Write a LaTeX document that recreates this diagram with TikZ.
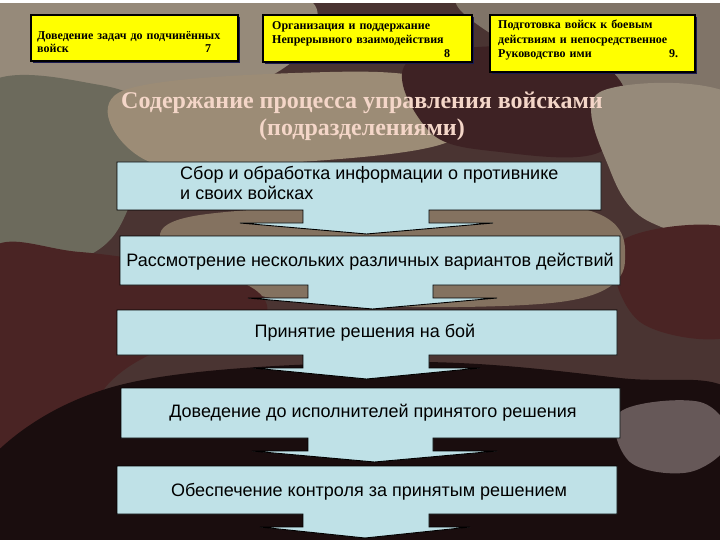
\documentclass[tikz,border=0pt]{standalone}
\usepackage{fontspec}
\setmainfont{Liberation Serif}
\newfontfamily\arialf{Liberation Sans}
\definecolor{camotan}{HTML}{968A7A}
\definecolor{camogrey}{HTML}{807468}
\definecolor{camogreen}{HTML}{6C6A5C}
\definecolor{camosand}{HTML}{9C8C76}
\definecolor{camomaroon}{HTML}{3E2224}
\definecolor{camored}{HTML}{4A2424}
\definecolor{camodark}{HTML}{1A0D0E}
\definecolor{camomid}{HTML}{847260}
\definecolor{camolight}{HTML}{665858}
\definecolor{camobase}{HTML}{4A3432}
\definecolor{flowblue}{HTML}{BFE1E7}
\definecolor{noteyellow}{HTML}{FFFF00}
\definecolor{noteshadow}{HTML}{1A1A50}
\definecolor{titlepink}{HTML}{F4D6C8}
\newcommand\flowcallout[8]{%
  \filldraw[flowshape] (#1,#2) -- (#3,#2) -- (#3,#4) -- (#6,#4) -- (#6,{#4+13})
    -- (#8,{#4+13}) -- ({(#7+#8)/2},{#4+24}) -- (#7,{#4+13}) -- (#5,{#4+13})
    -- (#5,#4) -- (#1,#4) -- cycle;}
\begin{document}
\begin{tikzpicture}[x=1pt,y=-1pt,
  flowshape/.style={fill=flowblue,draw=black,line width=0.9pt,line join=miter},
  notebox/.style={fill=noteyellow,draw=black,line width=2pt},
  notetext/.style={font=\bfseries\fontsize{12}{14}\selectfont,text=black,align=left,anchor=north west,inner sep=0pt},
  flowtext/.style={font=\arialf\fontsize{18}{20}\selectfont,text=black,inner sep=0pt},
  blob/.style={smooth cycle,tension=0.6}]
\useasboundingbox (0,0) rectangle (720,540);
% camouflage background
\fill[camobase] (0,0) rectangle (720,540);
\fill[camotan] plot[blob] coordinates {(-20,-10) (280,-10) (310,40) (250,85) (150,95) (60,82) (-20,95)};
\fill[camogrey] plot[blob] coordinates {(470,-10) (740,-10) (740,115) (650,100) (580,70) (500,40)};
\fill[camogreen] plot[blob] coordinates {(-20,90) (100,85) (165,120) (140,180) (110,240) (60,262) (-20,250)};
\fill[camosand] plot[blob] coordinates {(120,92) (330,72) (440,84) (452,140) (300,162) (150,162)};
\fill[camomaroon] plot[blob] coordinates {(410,60) (560,48) (625,90) (600,152) (500,152) (430,132)};
\fill[camotan] plot[blob] coordinates {(600,92) (740,100) (740,232) (650,222) (610,170)};
\fill[camored] plot[blob] coordinates {(620,242) (740,232) (740,332) (640,322)};
\fill[camomid] plot[blob] coordinates {(200,215) (560,205) (625,260) (560,302) (300,302) (180,262)};
\fill[camored] plot[blob] coordinates {(-20,262) (80,252) (240,282) (262,322) (180,342) (110,382) (60,462) (-20,472)};
\fill[camodark] plot[blob] coordinates {(-20,470) (120,385) (400,362) (620,378) (740,400) (740,560) (-20,560)};
\fill[camolight] plot[blob] coordinates {(620,412) (700,402) (730,440) (690,472) (630,462)};
\fill[white] (0,0) rectangle (720,3);
% top yellow notes
\fill[noteshadow] (33,17) rectangle (240,63);
\filldraw[notebox] (31,15) rectangle (238,61);
\node[notetext,text width=195pt,font=\bfseries\fontsize{12}{13}\selectfont] (n7) at (37,31) {Доведение задач до подчинённых\\войск\hfill 7\hspace*{21pt}};
\fill[noteshadow] (265,17) rectangle (474,64);
\filldraw[notebox] (263,15) rectangle (472,62);
\node[notetext,text width=178pt] (n8) at (272,21) {Организация и поддержание\\Непрерывного взаимодействия\\\hfill 8};
\fill[noteshadow] (492,17) rectangle (697,74);
\filldraw[notebox] (490,15) rectangle (695,72);
\node[notetext,text width=180pt,font=\bfseries\fontsize{12}{14.5}\selectfont] (n9) at (498,20) {Подготовка войск к боевым\\действиям и непосредственное\\Руководство ими\hfill 9.};
% title
\node[font=\bfseries\fontsize{24}{27}\selectfont,text=titlepink,align=center] (title) at (362,116) {Содержание процесса управления войсками\\(подразделениями)};
% flow callouts
\flowcallout{117}{162}{601}{210}{303}{429}{240}{493}
\flowcallout{120}{236}{620}{285}{308}{433}{248}{497}
\flowcallout{117}{310}{617}{355}{303}{429}{253}{480}
\flowcallout{121}{388}{620}{438}{308}{433}{252}{497}
\flowcallout{117}{466}{617}{514}{303}{429}{260}{470}
\node[flowtext,align=left,anchor=west] (s1) at (180,183) {Сбор и обработка информации о противнике\\и своих войсках};
\node[flowtext] (s2) at (370,262) {Рассмотрение нескольких различных вариантов действий};
\node[flowtext] (s3) at (365,333) {Принятие решения на бой};
\node[flowtext] (s4) at (373,413) {Доведение до исполнителей принятого решения};
\node[flowtext] (s5) at (369,492) {Обеспечение контроля за принятым решением};
\end{tikzpicture}
\end{document}
